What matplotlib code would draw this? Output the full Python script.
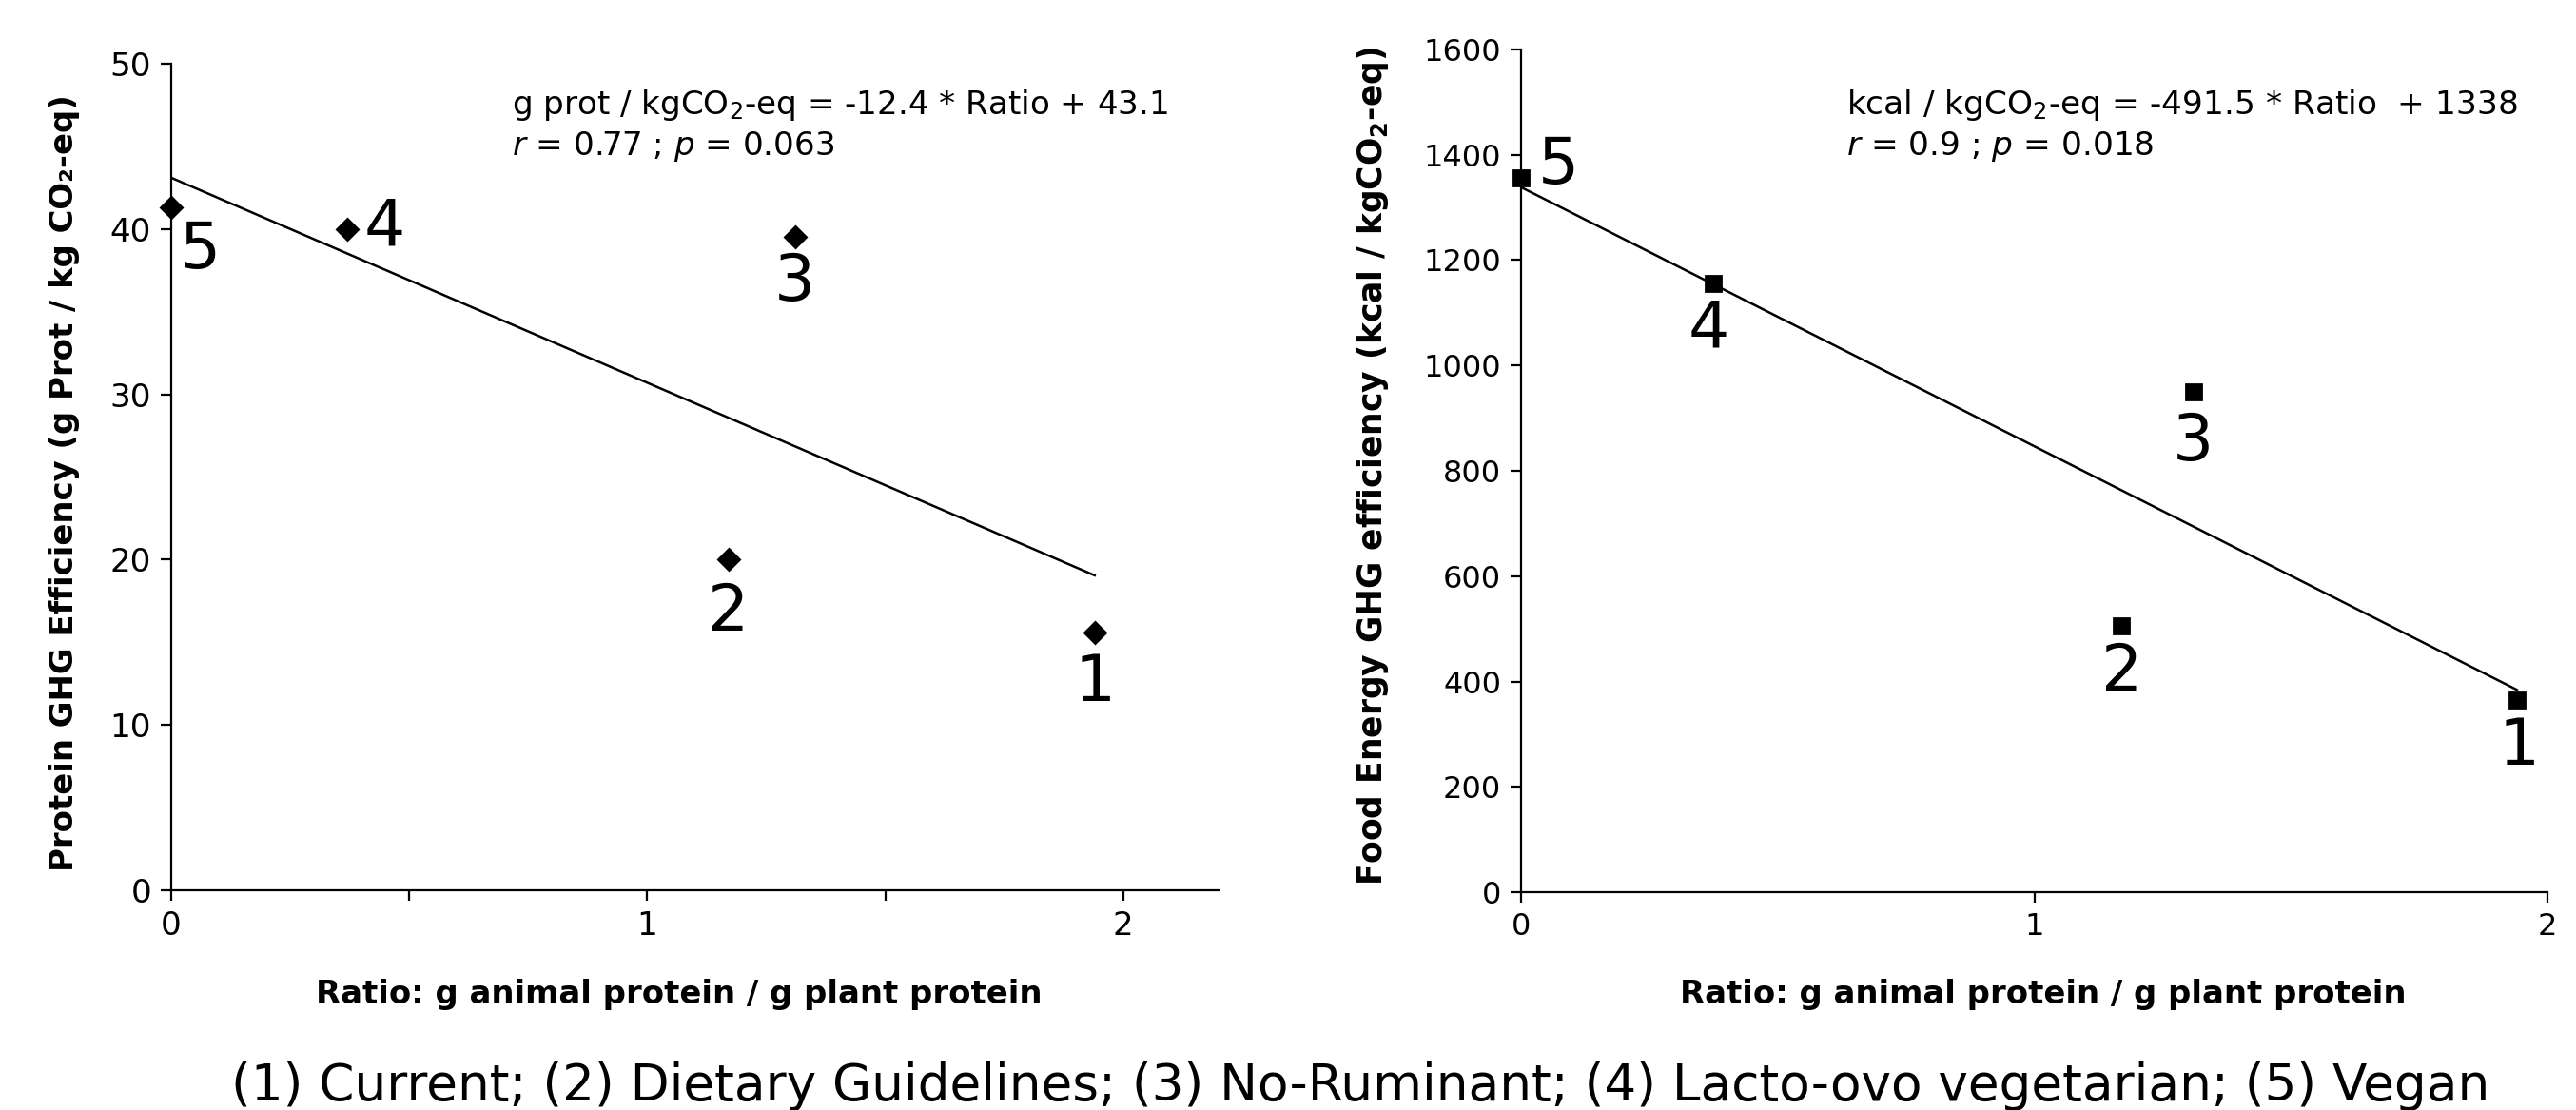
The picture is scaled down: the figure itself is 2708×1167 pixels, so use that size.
import numpy as np
import matplotlib
matplotlib.use('Agg')
import matplotlib.pyplot as plt

# Dados.
ratio_prot = [1.94, 1.17, 1.31, 0.37, 0.0]          # dietas 1..5
prot_eff = [15.6, 20.0, 39.5, 40.0, 41.3]
ratio_kcal = [1.94, 1.17, 1.31, 0.375, 0.0]
kcal_eff = [365, 505, 950, 1155, 1355]
diet_ids = ['1', '2', '3', '4', '5']

prot_slope, prot_icpt = -12.4, 43.1
kcal_slope, kcal_icpt = -491.5, 1338
fit_x = [0.0, 1.94]

# Deslocamento dos numeros (pontos tipograficos).
prot_offsets = [(0, -19), (0, -20), (0, -17), (14, 0.5), (11, -16)]
kcal_offsets = [(1, -17.5), (0, -17.5), (0, -19), (-2, -17.5), (14, 5)]

fig = plt.figure(figsize=(13.54, 5.835), dpi=200)

ax1 = fig.add_axes([0.0665, 0.198, 0.4065, 0.7446])
ax2 = fig.add_axes([0.5905, 0.196, 0.3985, 0.7597])

def estilo(ax, tam):
    ax.spines['top'].set_visible(False)
    ax.spines['right'].set_visible(False)
    ax.tick_params(labelsize=tam, width=0.8, length=4)

# Grafico da esquerda.
fx = np.array(fit_x)
ax1.plot(fx, prot_slope*fx + prot_icpt, color='black', lw=0.9)
ax1.plot(ratio_prot, prot_eff, 'kD', ms=5.5, clip_on=False, zorder=3)
for x, y, s, off in zip(ratio_prot, prot_eff, diet_ids, prot_offsets):
    ax1.annotate(s, (x, y), xytext=off, textcoords='offset points',
                 ha='center', va='center', fontsize=24.5)
ax1.set_xlim(0, 2.2)
ax1.set_ylim(0, 50)
ax1.set_xticks([0, 0.5, 1, 1.5, 2])
ax1.set_xticklabels(['0', '', '1', '', '2'])
ax1.set_yticks([0, 10, 20, 30, 40, 50])
estilo(ax1, 12.3)
ax1.text(0.325, 0.95, r'g prot / kgCO$\mathregular{_2}$-eq = -12.4 * Ratio + 43.1',
         transform=ax1.transAxes, fontsize=12.3, va='center')
ax1.text(0.325, 0.90, r'$r$ = 0.77 ; $p$ = 0.063',
         transform=ax1.transAxes, fontsize=12.3, va='center')

# Grafico da direita.
ax2.plot(fx, kcal_slope*fx + kcal_icpt, color='black', lw=0.9)
ax2.plot(ratio_kcal, kcal_eff, 'ks', ms=5.5, clip_on=False, zorder=3)
for x, y, s, off in zip(ratio_kcal, kcal_eff, diet_ids, kcal_offsets):
    ax2.annotate(s, (x, y), xytext=off, textcoords='offset points',
                 ha='center', va='center', fontsize=24.5)
ax2.set_xlim(0, 2)
ax2.set_ylim(0, 1600)
ax2.set_xticks([0, 1, 2])
ax2.set_yticks(range(0, 1601, 200))
estilo(ax2, 11.5)
ax2.text(0.317, 0.934, r'kcal / kgCO$_2$-eq = -491.5 * Ratio  + 1338',
         transform=ax2.transAxes, fontsize=12.4, va='center')
ax2.text(0.317, 0.885, r'$r$ = 0.9 ; $p$ = 0.018',
         transform=ax2.transAxes, fontsize=12.4, va='center')

# Rotulos dos eixos.
fig.text(0.0249, 0.565, 'Protein GHG Efficiency (g Prot / kg CO\u2082-eq)',
         rotation=90, ha='center', va='center', fontsize=12.2, fontweight='bold')
fig.text(0.533, 0.58, r'Food Energy GHG efficiency (kcal / kgCO$_\mathbf{2}$-eq)',
         rotation=90, ha='center', va='center', fontsize=12.45, fontweight='bold')
fig.text(0.2637, 0.1045, 'Ratio: g animal protein / g plant protein',
         ha='center', va='center', fontsize=12.2, fontweight='bold')
fig.text(0.793, 0.1045, 'Ratio: g animal protein / g plant protein',
         ha='center', va='center', fontsize=12.2, fontweight='bold')

# Legenda das dietas.
fig.text(0.528, 0.0216,
         '(1) Current; (2) Dietary Guidelines; (3) No-Ruminant; (4) Lacto-ovo vegetarian; (5) Vegan',
         ha='center', va='center', fontsize=19.2)

fig.savefig('out.png', dpi=200)
